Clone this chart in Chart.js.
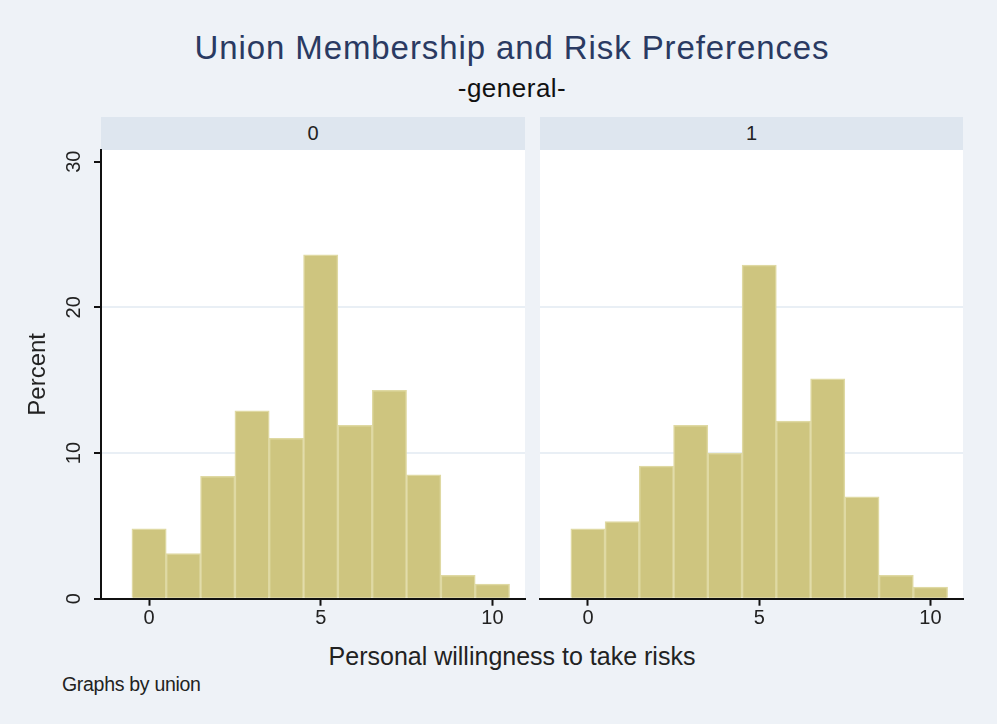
<!DOCTYPE html>
<html>
<head>
<meta charset="utf-8">
<script src="https://cdn.jsdelivr.net/npm/chart.js@4/dist/chart.umd.min.js"></script>
<style>
  body { margin: 0; background: #eef2f7; font-family: "Liberation Sans", Arial, sans-serif; }
  #page { position: relative; width: 997px; height: 724px; overflow: hidden; background: #eef2f7; }
  .txt { position: absolute; white-space: nowrap; transform: translate(-50%, -50%); line-height: 1; }
  .strip { position: absolute; top: 117px; height: 33px; background: #dee6ef; text-align: center;
           line-height: 33px; font-size: 20px; color: #222; }
  canvas { position: absolute; top: 126px; }
</style>
</head>
<body>
<div id="page">
  <div class="txt" style="left:512px; top:47px; font-size:33px; letter-spacing:0.9px; color:#2a3a62;">Union Membership and Risk Preferences</div>
  <div class="txt" style="left:512px; top:88px; font-size:26px; letter-spacing:0.5px; color:#111;">-general-</div>

  <div class="strip" id="strip0" style="left:101px; width:424px;"></div>
  <div class="strip" id="strip1" style="left:540px; width:423px;"></div>

  <canvas id="panel0" width="532" height="504" style="left:0px;"></canvas>
  <canvas id="panel1" width="440" height="504" style="left:532px;"></canvas>

  <div class="txt" style="left:512px; top:656px; font-size:25px; color:#222;">Personal willingness to take risks</div>
  <div class="txt" style="left:62px; top:685px; font-size:19.5px; color:#222; transform:translateY(-50%); letter-spacing:-0.3px;">Graphs by union</div>
</div>

<script>
// histogram bins (personal willingness to take risks, 0-10)
const bins = [0, 1, 2, 3, 4, 5, 6, 7, 8, 9, 10];
// percent of respondents per bin, by union membership
const pctUnion0 = [4.8, 3.1, 8.4, 12.9, 11.0, 23.6, 11.9, 14.3, 8.5, 1.6, 1.0];
const pctUnion1 = [4.8, 5.3, 9.1, 11.9, 10.0, 22.9, 12.2, 15.1, 7.0, 1.6, 0.8];
const panelLabels = ['0', '1'];
const xTicks = [0, 5, 10];
const yTicks = [0, 10, 20, 30];

const BAR_FILL = '#cec57f';
const BAR_EDGE = '#dfd9a3';
const GRID = '#e9eff5';
const INK = '#111';

document.getElementById('strip0').textContent = panelLabels[0];
document.getElementById('strip1').textContent = panelLabels[1];

// white plot region like stata's plotregion
const plotBg = {
  id: 'plotBg',
  beforeDraw(chart) {
    const { ctx, chartArea: a } = chart;
    ctx.save();
    ctx.fillStyle = '#ffffff';
    ctx.fillRect(a.left, a.top, a.right - a.left, a.bottom - a.top);
    ctx.restore();
  }
};

function makePanel(id, values, showY) {
  const yAxis = {
    min: 0,
    max: 30.8,
    afterBuildTicks: s => { s.ticks = yTicks.map(v => ({ value: v })); },
    afterFit: s => { s.width = showY ? 101 : 8; },
    grid: {
      color: c => (c.tick && (c.tick.value === 0 || c.tick.value === 30)) ? 'rgba(0,0,0,0)' : GRID,
      lineWidth: 2,
      drawTicks: showY,
      tickLength: 7,
      tickWidth: 2,
      tickColor: INK
    },
    border: { display: showY, color: INK, width: 2 },
    ticks: {
      display: showY,
      color: '#222',
      font: { size: 20 },
      minRotation: 90,
      maxRotation: 90,
      crossAlign: 'center',
      padding: 8
    },
    title: {
      display: showY,
      text: 'Percent',
      color: '#222',
      font: { size: 24 },
      padding: { top: 24 }
    }
  };

  return new Chart(document.getElementById(id), {
    type: 'bar',
    data: {
      datasets: [{
        data: bins.map((b, i) => ({ x: b, y: values[i] })),
        backgroundColor: BAR_FILL,
        borderColor: BAR_EDGE,
        borderWidth: 1.5,
        barPercentage: 1,
        categoryPercentage: 1
      }]
    },
    options: {
      responsive: false,
      animation: false,
      layout: { padding: { top: 24, right: showY ? 7 : 9, left: 0, bottom: 0 } },
      plugins: { legend: { display: false }, tooltip: { enabled: false } },
      scales: {
        x: {
          type: 'linear',
          min: -1.4,
          max: 10.95,
          offset: false,
          afterBuildTicks: s => { s.ticks = xTicks.map(v => ({ value: v })); },
          afterFit: s => { s.height = 31.3; },
          grid: { offset: false, drawOnChartArea: false, tickLength: 7, tickWidth: 2, tickColor: INK },
          border: { color: INK, width: 2 },
          ticks: { color: '#222', font: { size: 20 }, padding: 1, maxRotation: 0 }
        },
        y: yAxis
      }
    },
    plugins: [plotBg]
  });
}

makePanel('panel0', pctUnion0, true);
makePanel('panel1', pctUnion1, false);
</script>
</body>
</html>
